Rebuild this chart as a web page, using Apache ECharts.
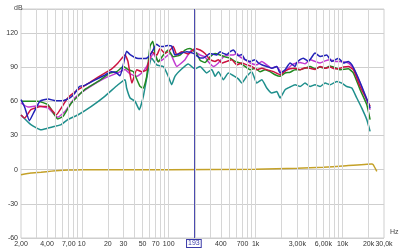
<!DOCTYPE html>
<html><head><meta charset="utf-8">
<script src="https://cdn.jsdelivr.net/npm/echarts@6/dist/echarts.min.js"></script>
<style>html,body{margin:0;padding:0;background:#fff}#c{width:400px;height:252px}</style>
</head><body><div id="c"></div>
<script>
// [frequency Hz, level dB]
const blue = [[2.0,61.4],[2.2,55],[2.5,43],[2.8,50],[3.3,60],[4.1,62],[5.0,60.5],[6.1,60.5],[7.3,62.9],[8.3,67],[9.4,73],[10.8,74],[12.9,77],[15.4,80],[18.4,83],[21.8,86],[25,85],[27.5,82.4],[30,92],[32.8,104],[36,101],[43,97.8],[49,97.5],[55.9,97.8],[63,102],[72.6,110],[80,108],[86,108],[97,109],[108,108.5],[118,100.6],[135,102],[161,103.5],[193,102],[230,98],[251,98],[299,102],[357,100.6],[390,103.5],[426,102],[466,101],[508,103.5],[555,105],[633,100],[693,101],[756,96.5],[864,95],[986,96.5],[1076,93.6],[1178,92.1],[1344,90.6],[1535,89],[1752,90.6],[1912,84.8],[2184,87.7],[2492,93.6],[2844,90.6],[2958,93.6],[3248,96.5],[3546,97.8],[4046,95],[4833,102.3],[5517,99.4],[6580,100.6],[7524,95],[8960,97.8],[10230,93.6],[11680,95],[12780,92.1],[14590,83.3],[16660,73],[19840,58.5],[20760,54]];
const red = [[2.0,48],[2.2,45.3],[2.6,52.6],[3.4,55.5],[4.1,55.5],[5.1,48.2],[5.8,54],[6.9,62.9],[9.1,70.2],[12.9,77.4],[18.4,84.8],[21.8,88],[26.1,93.6],[31.5,100.6],[34,95],[37.7,76],[43,87.7],[49,86],[55.9,87.7],[63.8,103.5],[72.9,100.6],[79.6,106.4],[90.8,102],[103.7,105],[113,108],[124,100.6],[141,103.5],[168,101.5],[201,106.4],[230,105],[262,102],[299,96.5],[342,95],[373,96.5],[408,93.6],[466,95],[532,96.5],[607,92],[693,93.6],[791,92],[903,90.6],[1031,87.7],[1178,89],[1344,87.7],[1601,86],[1912,83.3],[2184,86.5],[2492,88.5],[2844,89],[3248,87.7],[3708,89.5],[4234,89],[4833,88],[5517,90.6],[6300,89],[7190,90],[8200,88.5],[9378,89],[10230,90],[11680,90.6],[13340,87.7],[15920,73],[19020,61.4],[20760,55.5]];
const green = [[2.0,60],[3.1,60],[4.1,57],[5.3,44.5],[6.1,46.8],[7.6,58.5],[10.8,70.2],[15.4,77.4],[21.1,84.8],[25.3,86],[30.1,90.6],[34.4,87.7],[39.2,86],[46.8,73],[51.1,71.6],[55.9,81.9],[61,108.3],[65.6,112.7],[69.7,102],[76,94.7],[86.8,100.6],[99,105],[113,99],[135,100.6],[154,105],[176,106.4],[210,102],[230,96],[262,94],[299,99],[342,102],[390,100.6],[445,99],[508,97.8],[580,95],[662,93.6],[756,90.6],[864,87.7],[986,89],[1126,86],[1285,87.7],[1467,86],[1675,83.3],[1912,81.9],[2184,84.8],[2492,85.5],[2844,87.7],[3248,87.7],[3708,89],[4234,90.6],[4833,88.5],[5517,90],[6300,89],[7190,91],[8200,89.5],[9378,87.7],[11680,88.5],[13340,84.8],[15920,70.2],[19020,57],[20760,43.9]];
const magenta = [[2.0,58.5],[2.4,55],[3.1,56],[4.1,54],[5.3,46],[6.4,51],[8.3,62.9],[12,72],[18,80],[26,85],[31.5,88],[36,84],[43,81.9],[49,84.8],[55.9,90.6],[66.6,102],[76,94.7],[86.8,97],[103.7,102],[124,90.6],[154,96.5],[184,105],[230,100.6],[262,99],[286,94.7],[327,90.6],[373,93.6],[426,99],[486,100.6],[555,100.6],[607,102],[662,99],[756,96.5],[864,93.6],[1031,92],[1178,95],[1344,92],[1535,89],[1752,90.6],[2000,84.8],[2284,87.7],[2606,92],[2958,93.6],[3248,94],[3708,93],[4234,96.5],[4833,95],[5517,93.6],[6300,95.5],[7190,96.5],[8200,95],[9378,95],[11680,93.6],[13340,89],[15920,76],[19840,57],[20760,52.6]];
const teal = [[2.0,48],[2.6,39.5],[3.4,35],[4.1,36.5],[4.9,38],[5.8,39.5],[6.9,43.9],[9.1,48.2],[12.9,55.5],[18.4,64.3],[26.1,74.5],[31.5,78.9],[32.8,71.6],[36,62.9],[41,60],[45.9,52.6],[51.1,64.3],[58.3,87.7],[63.8,97.8],[72.9,91.9],[86.8,90.5],[99,81.9],[108.4,74.6],[118,81.9],[141,88.3],[168,92.7],[201,88.3],[230,90.6],[251,87.7],[274,84.8],[313,88],[342,81.9],[373,86],[426,78.9],[486,84.8],[555,82.5],[633,79.7],[693,76],[791,82],[903,86],[1031,76],[1178,79],[1344,71.6],[1535,67.2],[1752,68.5],[1912,62.9],[2184,70.2],[2492,72.5],[2844,74.5],[3248,73],[3708,76],[4234,73],[4833,74.5],[5517,73],[6300,76],[7190,74.5],[8590,77.4],[9806,76],[11200,73],[12780,71.6],[14590,62.9],[16660,54],[19020,43.9],[20760,33.6]];
const gold = [[2.0,-4.4],[2.6,-3],[3.4,-2.3],[4.5,-1.3],[5.5,-0.8],[7,-0.4],[10,-0.1],[20,0],[100,0],[1000,0.3],[3000,1.2],[6000,2],[10000,3.2],[21700,5],[22500,4.4],[24800,-1.5]];
const xTickValues = [2,4,7,10,20,30,50,70,100,400,700,1000,3000,6000,10000,20000,30000];
const xTickLabels = ['2,00','4,00','7,00','10','20','30','50','70','100','400','700','1k','3,00k','6,00k','10k','20k','30,0k'];
const gridFreqs = [3,4,5,6,7,8,9,10,20,30,40,50,60,70,80,90,100,200,300,400,500,600,700,800,900,1000,2000,3000,4000,5000,6000,7000,8000,9000,10000,20000];
const cursorFreq = 193;

const L = v => Math.log10(v);
const tr = arr => arr.map(p => [L(p[0]), p[1]]);
const xMin = xTickValues[0], xMax = xTickValues[xTickValues.length - 1];
const edgeLabel = v => Math.abs(v - L(xMin)) < 0.01 ? xTickLabels[0]
  : (Math.abs(v - L(xMax)) < 0.01 ? xTickLabels[xTickLabels.length - 1] : '');

const font = 'Liberation Sans';
const mk = (name, data, color) => ({
  type:'line', name, data: tr(data), showSymbol:false, smooth:0.15,
  lineStyle:{color, width:1.5}, itemStyle:{color}, animation:false, silent:true, z:3
});

const chart = echarts.init(document.getElementById('c'), null, {renderer:'canvas'});
chart.setOption({
  animation:false,
  backgroundColor:'#fff',
  title:[
    {text:'dB', left:9, top:0, textStyle:{fontSize:7, fontWeight:'normal', color:'#444', fontFamily:font}},
    {text:'Hz', left:385, top:224, textStyle:{fontSize:7, fontWeight:'normal', color:'#444', fontFamily:font}}
  ],
  grid:{left:21, right:16, top:9, bottom:14, show:true, borderColor:'#cfcfcf', borderWidth:1},
  xAxis:{
    type:'value', min:L(xMin), max:L(xMax),
    axisLine:{show:false}, axisTick:{show:false}, splitLine:{show:false},
    axisLabel:{customValues:[L(xMin), L(xMax)], formatter: v => edgeLabel(v),
      hideOverlap:false, showMinLabel:true, showMaxLabel:true,
      fontSize:7, color:'#333', margin:3, fontFamily:font}
  },
  yAxis:{
    type:'value', min:-60, max:141, interval:30,
    axisLine:{show:false}, axisTick:{show:false},
    splitLine:{lineStyle:{color:'#cfcfcf', width:1}},
    axisLabel:{fontSize:7, color:'#333', margin:3, fontFamily:font, showMaxLabel:false,
      formatter: v => (v > 130 ? '' : String(v))}
  },
  series:[
    {type:'line', data:[], silent:true, z:1,
      markLine:{silent:true, symbol:'none', animation:false,
        lineStyle:{color:'#d6d6d6', width:1, type:'solid'}, label:{show:false},
        data: gridFreqs.map(f=>({xAxis:L(f)}))}},
    {type:'line', data:[], silent:true, z:1,
      markLine:{silent:true, symbol:'none', animation:false,
        lineStyle:{color:'rgba(255,255,255,0)', width:1, type:'solid'},
        label:{show:true, position:'start', formatter:'{b}', color:'#333', fontSize:7, fontFamily:font, distance:3},
        data: xTickValues.slice(1, -1).map((f,i)=>({xAxis:L(f), name:xTickLabels[i + 1]}))}},
    mk('teal', teal, '#1f8f8c'),
    mk('magenta', magenta, '#c23ad0'),
    mk('green', green, '#218a21'),
    mk('red', red, '#cc1240'),
    mk('blue', blue, '#2323b8'),
    mk('gold', gold, '#c4a128'),
    {type:'line', data:[], silent:true, z:5,
      markLine:{silent:true, symbol:'none', animation:false,
        lineStyle:{color:'#4b4bb0', width:1, type:'solid'},
        label:{show:true, position:'start', formatter:String(cursorFreq), color:'#3a3aa8',
          fontSize:7, fontFamily:font, backgroundColor:'#fff', borderColor:'#3a3aa8', borderWidth:1,
          padding:[0,1,0,1], distance:2},
        data:[{xAxis:L(cursorFreq)}]}}
  ]
});
</script></body></html>
